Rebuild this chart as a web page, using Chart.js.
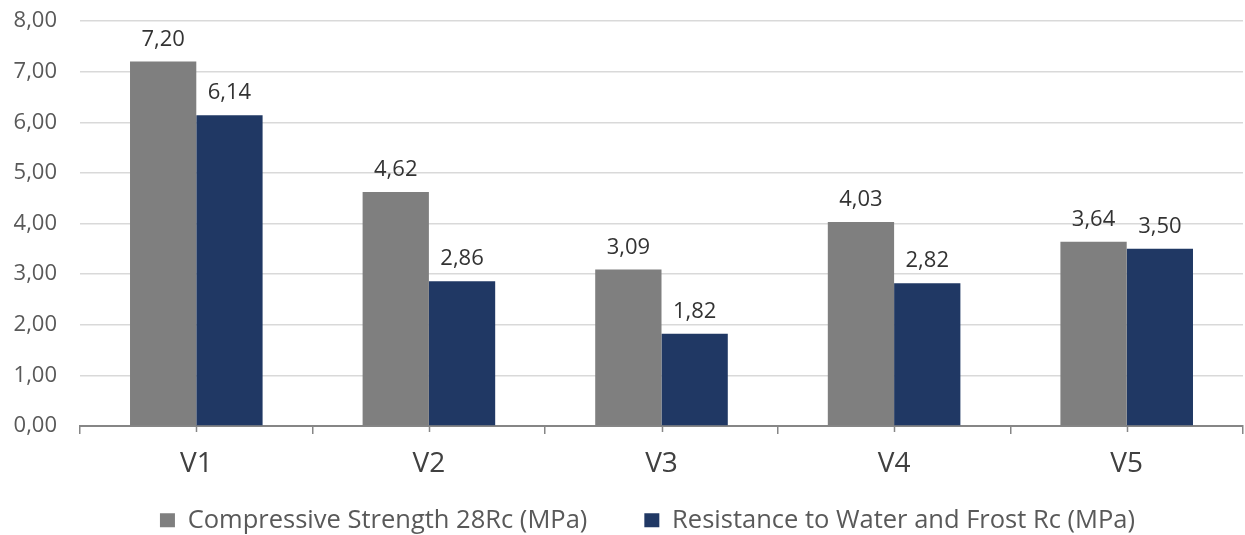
<!DOCTYPE html>
<html>
<head>
<meta charset="utf-8">
<script src="https://cdn.jsdelivr.net/npm/chart.js@4.4.0/dist/chart.umd.min.js"></script>
<style>
  html, body { margin: 0; padding: 0; background: #ffffff; }
  #wrap { width: 1245px; height: 535px; }
</style>
</head>
<body>
<div id="wrap"><canvas id="c" width="1245" height="535"></canvas></div>
<script>
// Mix variants and their measured strengths
const categories = ['V1', 'V2', 'V3', 'V4', 'V5'];
const compressive28 = [7.20, 4.62, 3.09, 4.03, 3.64];
const waterFrost = [6.14, 2.86, 1.82, 2.82, 3.50];
const yTicks = [0, 1, 2, 3, 4, 5, 6, 7, 8];

const fmt = v => v.toFixed(2).replace('.', ',');
const FONT = '"Open Sans", sans-serif';

// Value labels above each bar
const valueLabels = {
  id: 'valueLabels',
  afterDatasetsDraw(chart) {
    const ctx = chart.ctx;
    ctx.save();
    ctx.font = '22px ' + FONT;
    ctx.fillStyle = '#333333';
    ctx.textAlign = 'center';
    ctx.textBaseline = 'alphabetic';
    chart.data.datasets.forEach((ds, i) => {
      chart.getDatasetMeta(i).data.forEach((bar, j) => {
        ctx.fillText(fmt(ds.data[j]), bar.x, bar.y - 16);
      });
    });
    ctx.restore();
  }
};

// Short notches under the axis at each category centre
const centreTicks = {
  id: 'centreTicks',
  afterDraw(chart) {
    const x = chart.scales.x;
    const y0 = chart.scales.y.getPixelForValue(0);
    const ctx = chart.ctx;
    ctx.save();
    ctx.strokeStyle = '#868686';
    ctx.lineWidth = 1.5;
    categories.forEach((_, i) => {
      const px = Math.round(x.getPixelForValue(i)) + 0.5;
      ctx.beginPath();
      ctx.moveTo(px, y0);
      ctx.lineTo(px, y0 + 6);
      ctx.stroke();
    });
    ctx.restore();
  }
};

// Let the category labels use the space under the axis, and nudge the legend row right
const layoutTweaks = {
  id: 'layoutTweaks',
  afterLayout(chart) {
    const xs = chart.scales.x;
    xs.bottom = xs.top + 70;
    xs.height = 70;
    if (chart.legend) {
      chart.legend.left += 20;
      chart.legend.right += 20;
    }
  }
};

new Chart(document.getElementById('c'), {
  type: 'bar',
  data: {
    labels: categories,
    datasets: [
      {
        label: 'Compressive Strength 28Rc (MPa)',
        data: compressive28,
        backgroundColor: '#7f7f7f',
        categoryPercentage: 0.57,
        barPercentage: 1.0
      },
      {
        label: 'Resistance to Water and Frost Rc (MPa)',
        data: waterFrost,
        backgroundColor: '#203864',
        categoryPercentage: 0.57,
        barPercentage: 1.0
      }
    ]
  },
  options: {
    responsive: false,
    animation: false,
    layout: { padding: { left: 12, right: 2, top: 0, bottom: -8 } },
    plugins: {
      tooltip: { enabled: false },
      legend: {
        position: 'bottom',
        labels: {
          boxWidth: 15,
          boxHeight: 14,
          padding: 57,
          color: '#595959',
          font: { family: FONT, size: 25.5 }
        }
      }
    },
    scales: {
      x: {
        afterFit(scale) { scale.height = 24.5; },
        grid: {
          display: true,
          offset: true,
          drawOnChartArea: false,
          drawTicks: true,
          tickLength: 8,
          color: '#868686',
          lineWidth: 1.5
        },
        border: { display: true, color: '#868686', width: 2 },
        ticks: {
          color: '#404040',
          padding: 13,
          font: { family: FONT, size: 28 }
        }
      },
      y: {
        min: 0,
        max: 8,
        afterFit(scale) {
          scale.width = 68;
          scale.paddingTop = 21;
          scale.paddingBottom = 0;
        },
        afterBuildTicks(scale) { scale.ticks = yTicks.map(v => ({ value: v })); },
        grid: { color: '#d9d9d9', lineWidth: 1.5, drawTicks: false },
        border: { display: false },
        ticks: {
          color: '#595959',
          padding: 23,
          font: { family: FONT, size: 22 },
          callback: v => fmt(v)
        }
      }
    }
  },
  plugins: [valueLabels, centreTicks, layoutTweaks]
});
</script>
</body>
</html>
